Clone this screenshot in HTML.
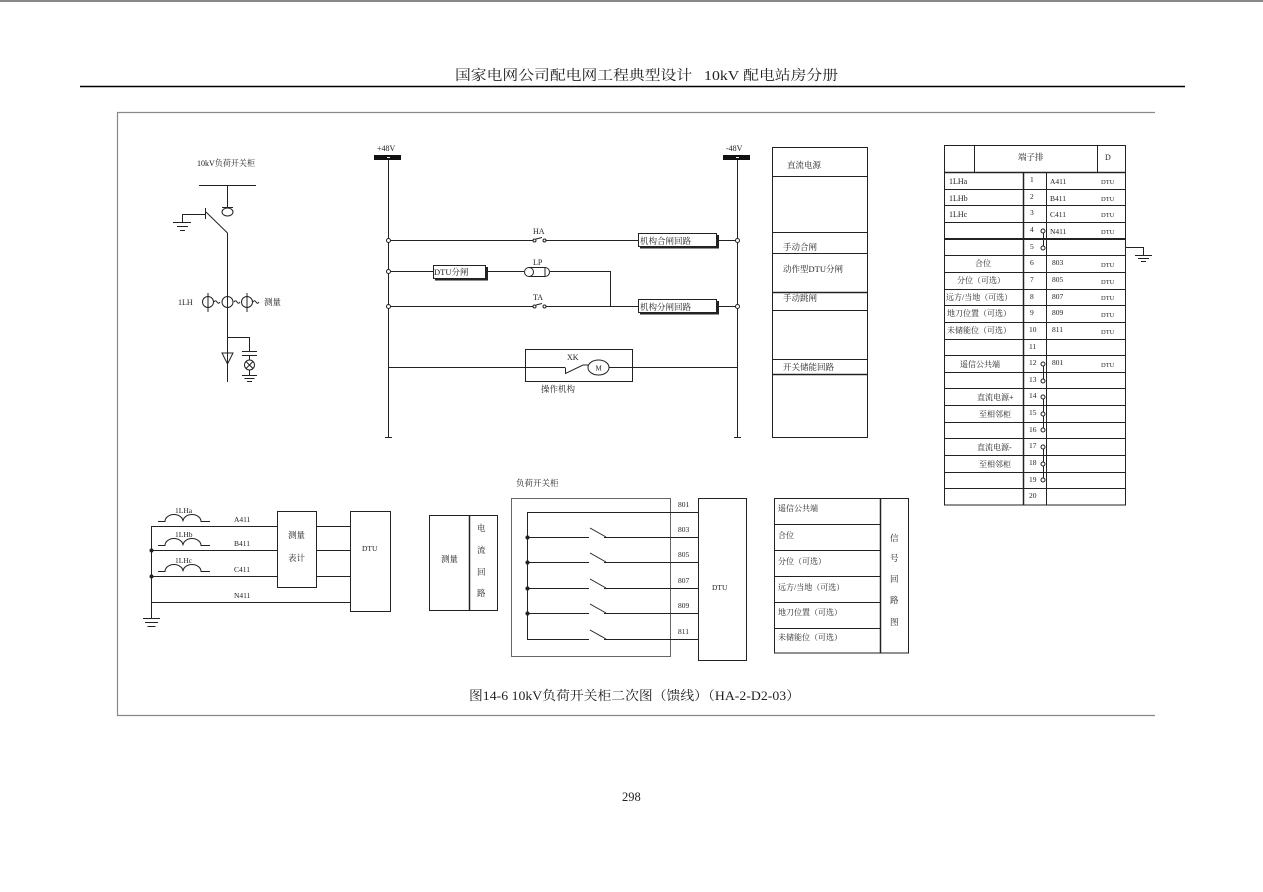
<!DOCTYPE html>
<html><head><meta charset="utf-8"><style>
html,body{margin:0;padding:0;background:#fff;}
svg{display:block;}
text{font-family:"Liberation Serif","Noto Serif CJK SC",serif;fill:#222;}
.s{font-size:8.5px;}
.t{font-size:8px;}
</style></head><body>
<svg width="1263" height="892" viewBox="0 0 1263 892" xmlns="http://www.w3.org/2000/svg">
<!-- page decorations -->
<line x1="0" y1="1" x2="1263" y2="1" stroke="#888" stroke-width="2"/>
<text x="455" y="80" font-size="14" textLength="383" lengthAdjust="spacingAndGlyphs">国家电网公司配电网工程典型设计&#160;&#160;&#160;10kV&#160;配电站房分册</text>
<line x1="80" y1="86.5" x2="1185" y2="86.5" stroke="#000" stroke-width="1.5"/>
<path d="M1155,112.5 H117.5 V715.5 H1155" fill="none" stroke="#888" stroke-width="1.2"/>
<text x="469" y="700" font-size="13" textLength="331" lengthAdjust="spacingAndGlyphs">图14-6 10kV负荷开关柜二次图（馈线）（HA-2-D2-03）</text>
<text x="622" y="801" font-size="12.5">298</text>

<g stroke="#222" stroke-width="1" fill="none">
<!-- ===== top-left single line diagram ===== -->
<line x1="199" y1="185.5" x2="256" y2="185.5"/>
<line x1="227.5" y1="185" x2="227.5" y2="207"/>
<line x1="222" y1="207.5" x2="233" y2="207.5"/>
<ellipse cx="227.5" cy="212" rx="5.5" ry="4"/>
<line x1="206" y1="212" x2="227.5" y2="233"/>
<line x1="227.5" y1="233" x2="227.5" y2="382"/>
<line x1="205.5" y1="208" x2="205.5" y2="219"/>
<line x1="182" y1="214.5" x2="205.5" y2="214.5"/>
<line x1="182.5" y1="214" x2="182.5" y2="222"/>
<line x1="173" y1="222.5" x2="191" y2="222.5"/>
<line x1="177" y1="226.5" x2="188" y2="226.5"/>
<line x1="180" y1="230.5" x2="185" y2="230.5"/>
<!-- CTs -->
<circle cx="208" cy="302" r="5.5"/>
<circle cx="227.5" cy="302" r="5.5"/>
<circle cx="247" cy="302" r="5.5"/>
<line x1="208" y1="293" x2="208" y2="312"/>
<line x1="247" y1="293" x2="247" y2="312"/>
<path d="M214,302 q1.5,-2.5 3,0 t3,0"/>
<path d="M234,302 q1.5,-2.5 3,0 t3,0"/>
<path d="M253,302 q1.5,-2.5 3,0 t3,0"/>
<!-- arrester / capacitor / lamp -->
<polygon points="222,353 233,353 227.5,364"/>
<path d="M227.5,337.5 H249.5 V351.5"/>
<line x1="242" y1="351.5" x2="257" y2="351.5"/>
<line x1="242" y1="355.5" x2="257" y2="355.5"/>
<line x1="249.5" y1="355.5" x2="249.5" y2="360"/>
<circle cx="249.5" cy="365" r="5"/>
<line x1="246" y1="361.5" x2="253" y2="368.5"/>
<line x1="253" y1="361.5" x2="246" y2="368.5"/>
<line x1="249.5" y1="370" x2="249.5" y2="375"/>
<line x1="242" y1="375.5" x2="257" y2="375.5"/>
<line x1="244.5" y1="378.5" x2="254.5" y2="378.5"/>
<line x1="247" y1="381.5" x2="252" y2="381.5"/>

<!-- ===== DC control circuit ===== -->
<line x1="388.5" y1="160" x2="388.5" y2="437"/>
<line x1="385" y1="437.5" x2="392" y2="437.5"/>
<line x1="737.5" y1="160" x2="737.5" y2="437"/>
<line x1="734" y1="437.5" x2="741" y2="437.5"/>
<!-- HA row -->
<line x1="388" y1="240.5" x2="533" y2="240.5"/>
<circle cx="534.5" cy="240.5" r="1.5"/>
<circle cx="544.5" cy="240.5" r="1.5"/>
<line x1="536" y1="239" x2="542" y2="237.5"/>
<line x1="546" y1="240.5" x2="638" y2="240.5"/>
<rect x="638.5" y="233.5" width="78" height="13"/>
<path d="M640,247.5 H718 V235" stroke-width="2"/>
<line x1="718" y1="240.5" x2="737" y2="240.5"/>
<!-- LP row -->
<line x1="388" y1="271.5" x2="433" y2="271.5"/>
<rect x="433.5" y="265.5" width="52" height="13"/>
<path d="M435,279.5 H487 V267" stroke-width="2"/>
<line x1="487" y1="271.5" x2="524" y2="271.5"/>
<circle cx="529" cy="272" r="4.5"/>
<path d="M529,267.5 H545 A4.5,4.5 0 0 1 545,276.5 H529"/>
<line x1="545" y1="267.5" x2="545" y2="276.5"/>
<line x1="550" y1="271.5" x2="611" y2="271.5"/>
<line x1="610.5" y1="271.5" x2="610.5" y2="306.5"/>
<!-- TA row -->
<line x1="388" y1="306.5" x2="533" y2="306.5"/>
<circle cx="534.5" cy="306.5" r="1.5"/>
<circle cx="544.5" cy="306.5" r="1.5"/>
<line x1="536" y1="305" x2="542" y2="303.5"/>
<line x1="546" y1="306.5" x2="638" y2="306.5"/>
<rect x="638.5" y="299.5" width="78" height="13"/>
<path d="M640,313.5 H718 V301" stroke-width="2"/>
<line x1="718" y1="306.5" x2="737" y2="306.5"/>
<!-- motor row -->
<line x1="388" y1="367.5" x2="565" y2="367.5"/>
<rect x="525.5" y="349.5" width="107" height="32"/>
<path d="M565.5,367.5 V373.5 L583,365 H588"/>
<ellipse cx="598.5" cy="367.5" rx="10.5" ry="7.5"/>
<line x1="609" y1="367.5" x2="737" y2="367.5"/>
<!-- junction circles -->
<g fill="#fff">
<circle cx="388.5" cy="240.5" r="2"/>
<circle cx="388.5" cy="271.5" r="2"/>
<circle cx="388.5" cy="306.5" r="2"/>
<circle cx="737.5" cy="240.5" r="2"/>
<circle cx="737.5" cy="306.5" r="2"/>
</g>

<!-- ===== right function list ===== -->
<rect x="772.5" y="147.5" width="95" height="290"/>
<line x1="772" y1="176.5" x2="868" y2="176.5"/>
<line x1="772" y1="232.5" x2="868" y2="232.5"/>
<line x1="772" y1="253.5" x2="868" y2="253.5"/>
<line x1="772" y1="292.5" x2="868" y2="292.5" stroke-width="1.5"/>
<line x1="772" y1="310.5" x2="868" y2="310.5"/>
<line x1="772" y1="359.5" x2="868" y2="359.5"/>
<line x1="772" y1="374.5" x2="868" y2="374.5" stroke-width="1.5"/>

<!-- ===== terminal table ===== -->
<rect x="944.5" y="145.5" width="181" height="359.5"/>
<line x1="974.5" y1="145" x2="974.5" y2="172"/>
<line x1="1097.5" y1="145" x2="1097.5" y2="172"/>
<line x1="944" y1="172.5" x2="1126" y2="172.5" stroke-width="1.5"/>
<line x1="1023.5" y1="172" x2="1023.5" y2="505" stroke-width="1.5"/>
<line x1="1046.5" y1="172" x2="1046.5" y2="505"/>
<g>
<line x1="944" y1="189.5" x2="1126" y2="189.5"/>
<line x1="944" y1="205.5" x2="1126" y2="205.5"/>
<line x1="944" y1="222.5" x2="1126" y2="222.5"/>
<line x1="944" y1="239" x2="1126" y2="239" stroke-width="2"/>
<line x1="944" y1="255.5" x2="1126" y2="255.5"/>
<line x1="944" y1="272.5" x2="1126" y2="272.5"/>
<line x1="944" y1="289.5" x2="1126" y2="289.5"/>
<line x1="944" y1="305.5" x2="1126" y2="305.5"/>
<line x1="944" y1="322.5" x2="1126" y2="322.5"/>
<line x1="944" y1="339.5" x2="1126" y2="339.5"/>
<line x1="944" y1="355.5" x2="1126" y2="355.5"/>
<line x1="944" y1="372.5" x2="1126" y2="372.5"/>
<line x1="944" y1="388.5" x2="1126" y2="388.5"/>
<line x1="944" y1="405.5" x2="1126" y2="405.5"/>
<line x1="944" y1="422.5" x2="1126" y2="422.5"/>
<line x1="944" y1="438.5" x2="1126" y2="438.5"/>
<line x1="944" y1="455.5" x2="1126" y2="455.5"/>
<line x1="944" y1="472.5" x2="1126" y2="472.5"/>
<line x1="944" y1="488.5" x2="1126" y2="488.5"/>
</g>
<!-- links -->
<line x1="1043.5" y1="231" x2="1043.5" y2="248"/>
<line x1="1043.5" y1="364" x2="1043.5" y2="381"/>
<line x1="1043.5" y1="397" x2="1043.5" y2="430"/>
<line x1="1043.5" y1="447" x2="1043.5" y2="480"/>
<g fill="#fff">
<circle cx="1043" cy="231" r="2"/>
<circle cx="1043" cy="248" r="2"/>
<circle cx="1043" cy="364" r="2"/>
<circle cx="1043" cy="381" r="2"/>
<circle cx="1043" cy="397" r="2"/>
<circle cx="1043" cy="414" r="2"/>
<circle cx="1043" cy="430" r="2"/>
<circle cx="1043" cy="447" r="2"/>
<circle cx="1043" cy="464" r="2"/>
<circle cx="1043" cy="480" r="2"/>
</g>
<!-- ground of row 5 -->
<path d="M1126,247.5 H1143.5 V255"/>
<line x1="1135" y1="255.5" x2="1152" y2="255.5"/>
<line x1="1138" y1="258.5" x2="1149" y2="258.5"/>
<line x1="1141" y1="261.5" x2="1146" y2="261.5"/>

<!-- ===== bottom-left CT circuit ===== -->
<line x1="151.5" y1="526" x2="151.5" y2="618"/>
<line x1="143" y1="618.5" x2="160" y2="618.5"/>
<line x1="145" y1="622.5" x2="158" y2="622.5"/>
<line x1="147.5" y1="626.5" x2="155.5" y2="626.5"/>
<path d="M158,521.5 H165 A9,7 0 0 1 183,521.5 A9,7 0 0 1 201,521.5 H210"/>
<path d="M158,545.5 H165 A9,7 0 0 1 183,545.5 A9,7 0 0 1 201,545.5 H210"/>
<path d="M158,571.5 H165 A9,7 0 0 1 183,571.5 A9,7 0 0 1 201,571.5 H210"/>
<line x1="151" y1="526.5" x2="277" y2="526.5"/>
<line x1="151" y1="550.5" x2="277" y2="550.5"/>
<line x1="151" y1="576.5" x2="277" y2="576.5"/>
<line x1="151" y1="602.5" x2="350" y2="602.5"/>
<circle cx="151.5" cy="550.5" r="1.5" fill="#222"/>
<circle cx="151.5" cy="576.5" r="1.5" fill="#222"/>
<rect x="277.5" y="511.5" width="39" height="76"/>
<line x1="317" y1="526.5" x2="350" y2="526.5"/>
<line x1="317" y1="550.5" x2="350" y2="550.5"/>
<line x1="317" y1="576.5" x2="350" y2="576.5"/>
<rect x="350.5" y="511.5" width="40" height="100"/>

<!-- ===== bottom-middle ===== -->
<rect x="429.5" y="515.5" width="68" height="95"/>
<line x1="469.5" y1="515" x2="469.5" y2="611" stroke-width="1.5"/>
<rect x="511.5" y="498.5" width="159" height="158" stroke="#666"/>
<line x1="527.5" y1="512" x2="527.5" y2="639.5"/>
<line x1="527" y1="512.5" x2="698" y2="512.5"/>
<path d="M527,537.5 H589 M590,528 L606,537 M604,537.5 H698"/>
<path d="M527,562.5 H589 M590,553 L606,562 M604,562.5 H698"/>
<path d="M527,588.5 H589 M590,579 L606,588 M604,588.5 H698"/>
<path d="M527,613.5 H589 M590,604 L606,613 M604,613.5 H698"/>
<path d="M527,639.5 H589 M590,630 L606,639 M604,639.5 H698"/>
<g fill="#222">
<circle cx="527.5" cy="537.5" r="1.6"/>
<circle cx="527.5" cy="562.5" r="1.6"/>
<circle cx="527.5" cy="588.5" r="1.6"/>
<circle cx="527.5" cy="613.5" r="1.6"/>
</g>
<rect x="698.5" y="498.5" width="48" height="162"/>

<!-- ===== bottom-right signal list ===== -->
<rect x="774.5" y="498.5" width="134" height="154.5"/>
<line x1="880.5" y1="498" x2="880.5" y2="653" stroke-width="1.5"/>
<line x1="774" y1="524.5" x2="880" y2="524.5"/>
<line x1="774" y1="550.5" x2="880" y2="550.5"/>
<line x1="774" y1="576.5" x2="880" y2="576.5"/>
<line x1="774" y1="602.5" x2="880" y2="602.5"/>
<line x1="774" y1="628.5" x2="880" y2="628.5"/>
</g>

<!-- bus bars -->
<rect x="374" y="155" width="27" height="5" fill="#111"/>
<rect x="387" y="157" width="3" height="1" fill="#fff"/>
<rect x="723" y="155" width="27" height="5" fill="#111"/>
<rect x="736" y="157" width="3" height="1" fill="#fff"/>

<!-- ===== texts ===== -->
<text class="s" x="197" y="166" textLength="58" lengthAdjust="spacingAndGlyphs">10kV负荷开关柜</text>
<text class="t" x="178" y="305">1LH</text>
<text class="s" x="264" y="305">测量</text>

<text class="t" x="377" y="151">+48V</text>
<text class="t" x="726" y="151">-48V</text>
<text class="t" x="533" y="234">HA</text>
<text class="t" x="533" y="265">LP</text>
<text class="t" x="533" y="300">TA</text>
<text class="s" x="640" y="244">机构合闸回路</text>
<text class="s" x="434" y="275">DTU分闸</text>
<text class="s" x="640" y="310">机构分闸回路</text>
<text class="t" x="567" y="360">XK</text>
<text x="595.5" y="370.5" font-size="7">M</text>
<text class="s" x="541" y="392">操作机构</text>

<text class="s" x="787" y="168">直流电源</text>
<text class="s" x="783" y="250">手动合闸</text>
<text class="s" x="783" y="272">动作型DTU分闸</text>
<text class="s" x="783" y="301">手动跳闸</text>
<text class="s" x="783" y="370">开关储能回路</text>

<!-- terminal table texts -->
<text class="s" x="1018" y="160">端子排</text>
<text class="t" x="1105" y="160">D</text>
<g class="t" font-size="7.5">
<text x="949" y="184">1LHa</text>
<text x="949" y="201">1LHb</text>
<text x="949" y="217">1LHc</text>
</g>
<text class="t" x="975" y="266">合位</text>
<text class="t" x="957" y="283">分位（可选）</text>
<text class="t" x="946" y="300">远方/当地（可选）</text>
<text class="t" x="947" y="316">地刀位置（可选）</text>
<text class="t" x="947" y="333">未储能位（可选）</text>
<text class="t" x="960" y="367">遥信公共端</text>
<text class="t" x="977" y="400">直流电源+</text>
<text class="t" x="979" y="417">至相邻柜</text>
<text class="t" x="977" y="450">直流电源-</text>
<text class="t" x="979" y="467">至相邻柜</text>
<g font-size="7.5">
<text x="1030" y="182">1</text>
<text x="1030" y="199">2</text>
<text x="1030" y="215">3</text>
<text x="1030" y="232">4</text>
<text x="1030" y="249">5</text>
<text x="1030" y="265">6</text>
<text x="1030" y="282">7</text>
<text x="1030" y="299">8</text>
<text x="1030" y="315">9</text>
<text x="1029" y="332">10</text>
<text x="1029" y="349">11</text>
<text x="1029" y="365">12</text>
<text x="1029" y="382">13</text>
<text x="1029" y="398">14</text>
<text x="1029" y="415">15</text>
<text x="1029" y="432">16</text>
<text x="1029" y="448">17</text>
<text x="1029" y="465">18</text>
<text x="1029" y="482">19</text>
<text x="1029" y="498">20</text>
<text x="1050" y="184">A411</text>
<text x="1050" y="201">B411</text>
<text x="1050" y="217">C411</text>
<text x="1050" y="234">N411</text>
<text x="1052" y="265">803</text>
<text x="1052" y="282">805</text>
<text x="1052" y="299">807</text>
<text x="1052" y="315">809</text>
<text x="1052" y="332">811</text>
<text x="1052" y="365">801</text>
</g>
<g font-size="6.5">
<text x="1101" y="184">DTU</text>
<text x="1101" y="201">DTU</text>
<text x="1101" y="217">DTU</text>
<text x="1101" y="234">DTU</text>
<text x="1101" y="267">DTU</text>
<text x="1101" y="284">DTU</text>
<text x="1101" y="300">DTU</text>
<text x="1101" y="317">DTU</text>
<text x="1101" y="334">DTU</text>
<text x="1101" y="367">DTU</text>
</g>

<!-- bottom-left texts -->
<g font-size="7.5">
<text x="175" y="513">1LHa</text>
<text x="175" y="537">1LHb</text>
<text x="175" y="563">1LHc</text>
<text x="234" y="522">A411</text>
<text x="234" y="546">B411</text>
<text x="234" y="572">C411</text>
<text x="234" y="598">N411</text>
<text x="362" y="551">DTU</text>
</g>
<text class="s" x="288" y="538">测量</text>
<text class="s" x="288" y="561">表计</text>

<!-- bottom-middle texts -->
<text class="s" x="516" y="486">负荷开关柜</text>
<text class="s" x="441" y="562">测量</text>
<text class="s" x="477" y="531">电</text>
<text class="s" x="477" y="553">流</text>
<text class="s" x="477" y="575">回</text>
<text class="s" x="477" y="596">路</text>
<g font-size="7.5">
<text x="678" y="507">801</text>
<text x="678" y="532">803</text>
<text x="678" y="557">805</text>
<text x="678" y="583">807</text>
<text x="678" y="608">809</text>
<text x="678" y="634">811</text>
<text x="712" y="590">DTU</text>
</g>

<!-- bottom-right texts -->
<text class="t" x="778" y="511">遥信公共端</text>
<text class="t" x="778" y="538">合位</text>
<text class="t" x="778" y="564">分位（可选）</text>
<text class="t" x="778" y="590">远方/当地（可选）</text>
<text class="t" x="778" y="615">地刀位置（可选）</text>
<text class="t" x="778" y="640">未储能位（可选）</text>
<text class="s" x="890" y="541">信</text>
<text class="s" x="890" y="561">号</text>
<text class="s" x="890" y="582">回</text>
<text class="s" x="890" y="603">路</text>
<text class="s" x="890" y="625">图</text>
</svg>
</body></html>
